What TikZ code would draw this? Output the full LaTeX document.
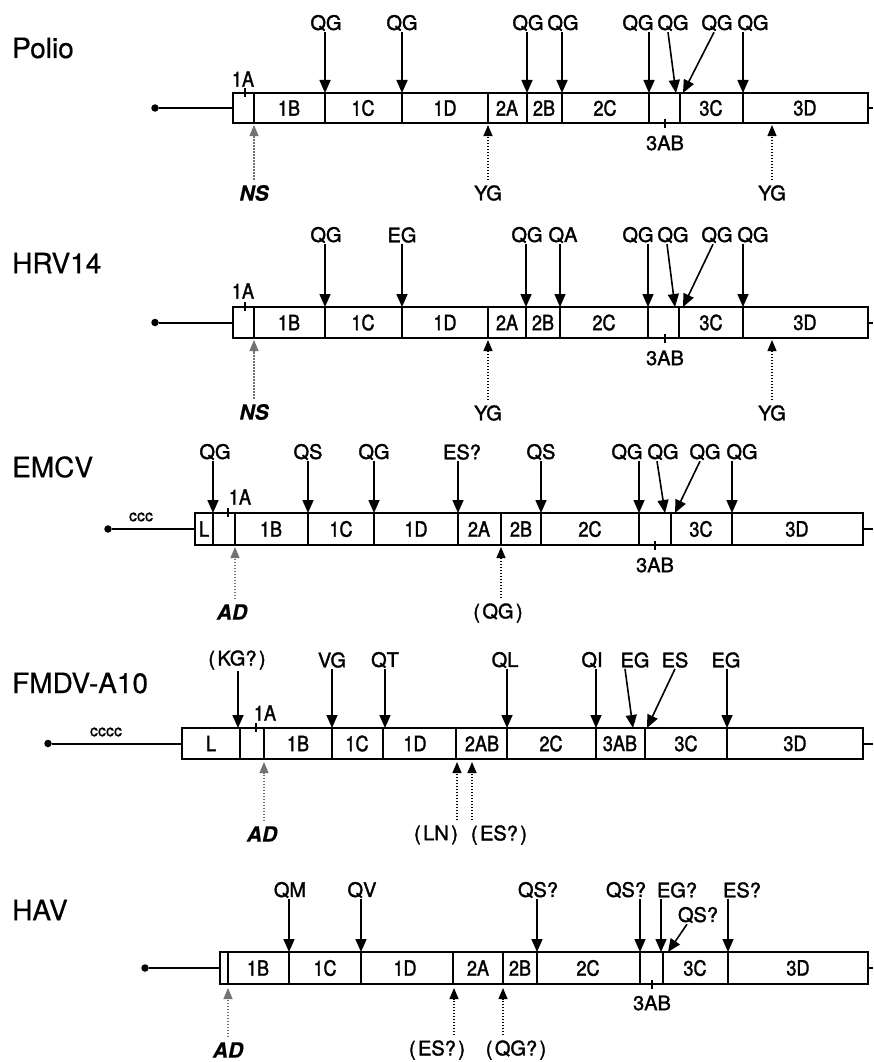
\documentclass[tikz,border=0pt]{standalone}
\usepackage{fontspec}
\setmainfont{TeX Gyre Heros}
\font\labfnt="TeX Gyre Heros:embolden=1.6" at 20pt
\font\segfnt="TeX Gyre Heros:embolden=1.5;extend=0.86" at 21pt
\font\tinyfnt="TeX Gyre Heros:embolden=1.2" at 16pt
\font\namefnt="TeX Gyre Heros:embolden=0.6" at 28pt
\font\itlfnt="TeX Gyre Heros/BI:embolden=0.5" at 21pt
\usetikzlibrary{arrows.meta}
\newcommand\pa[1]{(\kern2.5pt#1\kern2.5pt)}
\newcommand\genome[6]{%
  \pgfmathsetmacro\gmid{(#5+#6)/2}%
  \node[gbox,anchor=north west,minimum width={(#4-#3)*1pt},minimum height={(#6-#5)*1pt}] (#1b) at (#3,#5) {};
  \node[gdot] (#1d) at (#2,\gmid) {};
  \coordinate (#1e) at (873,\gmid);
  \draw[lead] (#1d) -- (#1b.west);
  \draw[lead] (#1b.east) -- (#1e);}
\newcommand\vdn[5]{%
  \node[lab] (#1) at (#2,#3) {#4};
  \coordinate (#1t) at #5;
  \draw[cut] (#1.south -| #1t) -- (#1t);}
\newcommand\sdn[6]{%
  \node[lab] (#1) at (#2,#3) {#4};
  \coordinate (#1t) at #6;
  \draw[cut] ([xshift=#5pt]#1.south) -- (#1t);}
\newcommand\upa[8]{%
  \node[#7] (#1) at (#4,#5) {#6};
  \coordinate (#1t) at (#2,#3);
  \draw[#8] (#1.north -| #1t) -- (#1t);}
\begin{document}
\begin{tikzpicture}[x=1pt,y=-1pt,
  gbox/.style={draw,line width=1.8pt,inner sep=0pt,outer sep=0pt},
  div/.style={line width=1.5pt},
  lead/.style={line width=2pt},
  gdot/.style={circle,fill,inner sep=0pt,minimum size=7.5pt},
  cut/.style={line width=1.6pt,-{Triangle[length=13pt,width=11pt]}},
  dcut/.style={line width=1.1pt,dash pattern=on 1.5pt off 1.5pt,-{Triangle[length=11pt,width=9pt]},shorten <=4pt},
  dcutg/.style={dcut,draw=black!55,fill=black!30},
  lab/.style={font=\labfnt,inner sep=1pt},
  seg/.style={font=\segfnt,inner sep=0pt},
  itl/.style={font=\itlfnt,inner sep=1pt},
  gname/.style={font=\namefnt,anchor=west,inner sep=0pt},
  tiny/.style={font=\tinyfnt,inner sep=0pt}]
\useasboundingbox (0,0) rectangle (873,1062);

% ---------------- Polio
\node[gname] (nP) at (12,48) {Polio};
\genome{P}{155}{233}{868}{93}{123}
\foreach \x in {254,325,402,488,527,562,649,680,743} \draw[div] (\x,93) -- (\x,123);
\draw[div] (245,88) -- (245,97);
\node[seg] (P1A) at (243,79) {1A};
\draw[div] (665,119) -- (665,128);
\node[lab] (P3AB) at (665,143) {3AB};
\foreach \x/\t [count=\i] in {289/1B,363/1C,445/1D,507/2A,544/2B,605/2C,711/3C,805/3D}
  \node[seg] (Ps\i) at (\x,108) {\t};
\vdn{Pa}{326}{23}{QG}{(325,93)}
\vdn{Pb}{402}{23}{QG}{(402,93)}
\vdn{Pc}{528}{23}{QG}{(527,93)}
\vdn{Pd}{563}{23}{QG}{(562,93)}
\vdn{Pe}{638}{23}{QG}{(649,93)}
\sdn{Pf}{673}{23}{QG}{-5}{(676,93)}
\sdn{Pg}{717}{23}{QG}{-3}{(683,93)}
\vdn{Ph}{753}{23}{QG}{(743,93)}
\upa{Pns}{254}{125}{254}{193}{NS}{itl}{dcutg}
\upa{Py1}{488}{125}{488}{193}{YG}{lab}{dcut}
\upa{Py2}{772}{125}{772}{193}{YG}{lab}{dcut}

% ---------------- HRV14
\node[gname] (nH) at (12,263) {HRV14};
\genome{H}{155}{233}{868}{307}{338}
\foreach \x in {254,325,402,488,526,560,648,679,743} \draw[div] (\x,307) -- (\x,338);
\draw[div] (245,302) -- (245,311);
\node[seg] (H1A) at (243,291) {1A};
\draw[div] (665,334) -- (665,343);
\node[lab] (H3AB) at (665,358) {3AB};
\foreach \x/\t [count=\i] in {289/1B,363/1C,445/1D,507/2A,543/2B,604/2C,711/3C,805/3D}
  \node[seg] (Hs\i) at (\x,322.5) {\t};
\vdn{Ha}{326}{235}{QG}{(325,307)}
\vdn{Hb}{402}{235}{EG}{(402,307)}
\vdn{Hc}{527}{235}{QG}{(526,307)}
\vdn{Hd}{563}{235}{QA}{(560,307)}
\vdn{He}{638}{235}{QG}{(648,307)}
\sdn{Hf}{673}{235}{QG}{-6}{(675,307)}
\sdn{Hg}{717}{235}{QG}{-4}{(683,307)}
\vdn{Hh}{753}{235}{QG}{(743,307)}
\upa{Hns}{254}{340}{254}{412}{NS}{itl}{dcutg}
\upa{Hy1}{488}{340}{488}{413}{YG}{lab}{dcut}
\upa{Hy2}{772}{340}{772}{413}{YG}{lab}{dcut}

% ---------------- EMCV
\node[gname] (nE) at (12,467) {EMCV};
\genome{E}{108}{195}{863}{513}{545}
\node[tiny] (Ec) at (141,517) {ccc};
\foreach \x in {213,235,308,374,458,501,541,639,671,732} \draw[div] (\x,513) -- (\x,545);
\draw[div] (228,508) -- (228,517);
\node[seg] (E1A) at (240,497) {1A};
\draw[div] (655,541) -- (655,550);
\node[lab] (E3AB) at (655,565) {3AB};
\foreach \x/\t [count=\i] in {204/L,271/1B,341/1C,416/1D,479/2A,521/2B,590/2C,701/3C,797/3D}
  \node[seg] (Es\i) at (\x,529) {\t};
\vdn{Ea}{215}{452}{QG}{(213,513)}
\vdn{Eb}{308}{452}{QS}{(308,513)}
\vdn{Ec2}{374}{452}{QG}{(374,513)}
\vdn{Ed}{462}{452}{ES?}{(458,513)}
\vdn{Ee}{541}{452}{QS}{(541,513)}
\vdn{Ef}{627}{452}{QG}{(639,513)}
\sdn{Eg}{663}{452}{QG}{-6}{(665,513)}
\sdn{Eh}{705}{452}{QG}{-5}{(675,513)}
\vdn{Ei}{742}{452}{QG}{(732,513)}
\upa{Ead}{235}{547}{232}{612}{AD}{itl}{dcutg}
\upa{Eqg}{501}{547}{498}{613}{\pa{QG}}{lab}{dcut}

% ---------------- FMDV-A10
\node[gname] (nF) at (12,683) {FMDV-A10};
\genome{F}{48}{182}{863}{728}{759}
\node[tiny] (Fc) at (106,732) {cccc};
\foreach \x in {240,264,332,383,456,507,596,645,727} \draw[div] (\x,728) -- (\x,759);
\draw[div] (256,723) -- (256,732);
\node[seg] (F1A) at (265,713) {1A};
\foreach \x/\t [count=\i] in {211/L,298/1B,357/1C,415/1D,482/2AB,551/2C,620/3AB,686/3C,795/3D}
  \node[seg] (Fs\i) at (\x,743.5) {\t};
\vdn{Fa}{237}{660}{\pa{KG?}}{(238,728)}
\vdn{Fb}{332}{660}{VG}{(332,728)}
\vdn{Fc2}{385}{660}{QT}{(385,728)}
\vdn{Fd}{505}{660}{QL}{(507,728)}
\vdn{Fe}{592}{660}{QI}{(596,728)}
\sdn{Ff}{635}{660}{EG}{-10}{(633,728)}
\sdn{Fg}{675}{660}{ES}{0}{(647,728)}
\vdn{Fh}{726}{660}{EG}{(727,728)}
\upa{Fad}{264}{762}{262}{834}{AD}{itl}{dcutg}
\upa{Fln}{457}{762}{436}{835}{\pa{LN}}{lab}{dcut}
\upa{Fes}{472}{762}{499}{835}{\pa{ES?}}{lab}{dcut}

% ---------------- HAV
\node[gname] (nV) at (12,910) {HAV};
\genome{V}{145}{220}{868}{952}{984}
\foreach \x in {228,289,361,453,503,537,640,663,728} \draw[div] (\x,952) -- (\x,984);
\draw[div] (652,980) -- (652,989);
\node[lab] (V3AB) at (652,1003) {3AB};
\foreach \x/\t [count=\i] in {258/1B,325/1C,405/1D,478/2A,520/2B,588/2C,695/3C,798/3D}
  \node[seg] (Vs\i) at (\x,968) {\t};
\vdn{Va}{290}{890}{QM}{(289,952)}
\vdn{Vb}{362}{890}{QV}{(361,952)}
\vdn{Vc}{538}{890}{QS?}{(537,952)}
\vdn{Vd}{626}{890}{QS?}{(640,952)}
\vdn{Ve}{677}{890}{EG?}{(661,952)}
\sdn{Vf}{698}{915}{QS?}{-11}{(668,952)}
\vdn{Vg}{742}{890}{ES?}{(728,952)}
\upa{Vad}{228}{988}{228}{1050}{AD}{itl}{dcutg}
\upa{Ves}{454}{988}{437}{1050}{\pa{ES?}}{lab}{dcut}
\upa{Vqg}{503}{988}{516}{1050}{\pa{QG?}}{lab}{dcut}
\end{tikzpicture}
\end{document}
